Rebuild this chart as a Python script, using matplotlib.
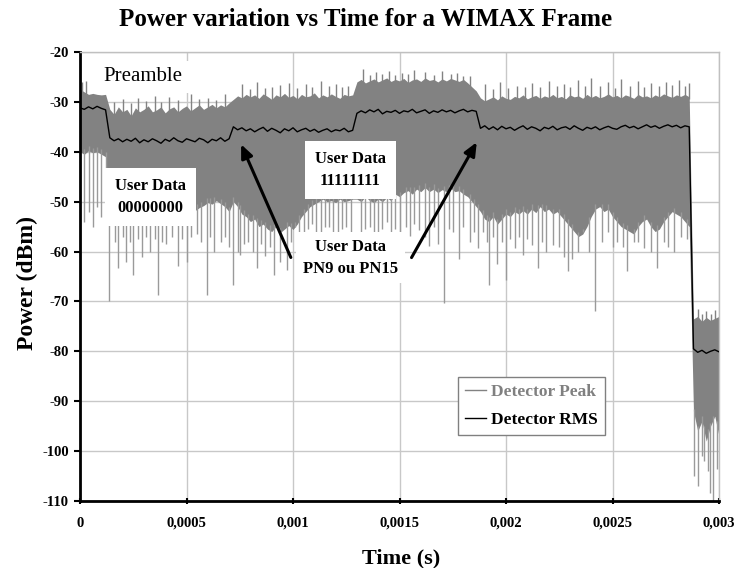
import matplotlib
matplotlib.use('Agg')
import matplotlib.pyplot as plt
from matplotlib.lines import Line2D
import numpy as np

# sample grid of the frame (s)
t = np.linspace(0, 0.003, 151)

# Detector Peak: upper edge of the dense band (dBm)
peak_top = [
    -27.5, -28, -28.5, -28.3, -28.5, -28.6, -28.5,
    -31.5, -32.5, -31, -32, -31.5, -32.8, -31.2, -32, -31.5, -30.8, -32, -31.6, -31, -32.2, -31.4,
    -31, -32, -31.3, -30.8, -31.8, -31.2, -30.6, -31.5, -31, -30.5, -31.2, -30.6, -31, -30.2,
    -29.5, -28.8, -29.2, -28.5, -29, -28.6, -29.3, -28.4, -28.9, -29.5, -28.6, -29, -28.3, -29.1,
    -28.7, -29.4, -28.5, -29, -28.8, -28.2, -29.2, -28.6, -29, -28.4, -28.9, -29.3, -28.5, -28.8, -28.6,
    -26, -25.5, -26.2, -25.8, -25.4, -26, -25.6, -25.2, -25.9, -25.5, -25.8, -25.3, -26.1, -25.6,
    -25.4, -25.9, -25.2, -25.7, -25.5, -26, -25.4, -25.8, -25.3, -25.6, -25.9, -25.5, -26.2, -27, -27.8,
    -29.2, -29.8, -29.4, -29, -29.6, -28.8, -29.3, -29.5, -28.9, -29.2, -28.6, -29.4, -29, -28.7,
    -29.3, -28.8, -29.1, -28.5, -29.2, -28.9, -29.4, -28.6, -29, -28.8, -29.3, -28.5, -29.1, -28.7,
    -29.2, -28.9, -28.4, -29, -28.7, -29.2, -28.6, -28.9, -29.3, -28.5, -29, -28.8, -29.2, -28.6,
    -29, -28.4, -28.8, -29.1, -28.6, -28.9, -28.5, -29,
    -73.5, -73, -74, -73.2, -73.8, -73.4, -73,
]

# Detector Peak: lower edge of the dense band (dBm)
peak_bottom = [
    -40, -40.5, -39.8, -40.2, -40, -40.5, -41,
    -54, -53.5, -54.5, -53.8, -54.2, -53.5, -54, -53.8, -54.5, -53.6, -54, -53.2, -53.8, -53.5, -53,
    -52.5, -53.2, -52.8, -52, -52.5, -51.8, -51.2, -50.8, -50.2, -50.5, -49.8, -50.4, -51, -52,
    -50, -51, -52.5, -53, -54, -53.5, -55, -54.5, -55.5, -56, -55, -56.2, -55.5, -54.8, -55.6,
    -54.5, -53, -52, -51, -50.5, -50, -49.5, -50, -49.8, -50.2, -49.5, -50, -49.8, -49.5,
    -49.5, -50, -49, -49.8, -50.2, -49.5, -50, -49.2, -49.8, -48.5, -49, -48.2, -47.8, -48.5,
    -47.5, -48, -47.2, -48, -47.5, -48.2, -47.6, -48, -47.3, -48, -47.8, -48.5, -49, -50, -51,
    -52, -53.5, -54, -53, -54.5, -53.5, -52.5, -53, -52, -52.5, -51.8, -52.5, -51.5, -52.2, -51,
    -52, -51.5, -52.5, -52, -53, -54, -55, -56, -57, -56.5, -55, -53, -51.5, -51, -52, -51.5,
    -53, -54, -55, -55.5, -56, -56.5, -55, -54, -53.5, -55, -56, -55.5, -54, -53, -52, -52.5,
    -53, -54, -55,
    -92, -96, -94, -98, -95, -93, -97,
]

# isolated downward peaks (s, dBm)
dip_t = [
    0.00002, 0.00004, 0.00006, 0.00008, 0.0001, 0.00012, 0.000138,
    0.000165, 0.000178, 0.0002, 0.000218, 0.000235, 0.00025, 0.00027, 0.00029, 0.00031, 0.00033,
    0.00035, 0.000366, 0.000385, 0.000405, 0.00043, 0.00046, 0.00048, 0.0005, 0.00052, 0.00055,
    0.00057, 0.000596, 0.00061, 0.00063, 0.00066, 0.00068, 0.0007, 0.00072, 0.00074,
    0.00075, 0.00077, 0.00079, 0.00081, 0.00083, 0.00085, 0.00087, 0.00089, 0.00091, 0.00094,
    0.00097, 0.00099, 0.00101, 0.00103, 0.00105, 0.00107, 0.00109, 0.00111, 0.00113, 0.00115,
    0.00117, 0.00119, 0.00121, 0.00123, 0.00125, 0.00127,
    0.00132, 0.00134, 0.00136, 0.00138, 0.0014, 0.00142, 0.00144, 0.00146, 0.00148, 0.0015,
    0.00153, 0.00155, 0.00157, 0.00159, 0.00162, 0.00164, 0.00166, 0.00168, 0.00171, 0.00173,
    0.00175, 0.00178, 0.0018, 0.00183, 0.00185,
    0.00187, 0.00189, 0.00191, 0.00192, 0.00194, 0.00196, 0.00198, 0.002, 0.00202, 0.00204,
    0.00206, 0.00208, 0.0021, 0.00212, 0.00215, 0.00217, 0.00219, 0.00222, 0.00225, 0.00227,
    0.00229, 0.00231, 0.00234, 0.00236, 0.00239, 0.00242, 0.00245, 0.00248, 0.0025, 0.00252,
    0.00255, 0.00257, 0.0026, 0.00262, 0.00265, 0.00268, 0.00271, 0.00274, 0.00276, 0.00279,
    0.00282, 0.00285,
    0.002883, 0.0029, 0.00292, 0.00293, 0.00295, 0.002958, 0.00297, 0.00299,
]
dip_v = [
    -54, -52, -55, -51, -53, -49, -70,
    -58, -63.3, -57, -62, -58, -64.7, -57.5, -61, -57, -60,
    -57.5, -68.7, -58, -58.5, -57, -63, -57.5, -62, -57, -56.5,
    -58, -68.7, -57, -60, -58, -57, -59, -66.7, -60,
    -60.7, -58.5, -58, -60, -63.3, -58.5, -60.8, -59, -64.7, -62,
    -63.7, -58, -55, -56.5, -56, -55.5, -54.5, -56, -56, -55,
    -55, -56, -56, -55.5, -55, -56,
    -56, -55.5, -55, -56, -56, -55.5, -54, -56, -55.5, -56,
    -55, -56.8, -54.5, -55.6, -57, -58.8, -55, -58.5, -70.3, -55.5,
    -56, -61.4, -55, -58, -56,
    -59.3, -56, -58, -66.7, -57, -62.4, -58, -65.7, -57.5, -59.3,
    -57, -60.6, -57.5, -58.6, -63.3, -58, -60, -58.6, -59, -61,
    -64, -61.4, -60, -56, -60, -72, -58, -56, -59, -58,
    -59, -64, -58, -58, -59.3, -60, -63.3, -58, -59, -60,
    -57, -57.5,
    -105, -107, -101, -102, -104, -108.4, -110, -103.5,
]

# isolated upward peaks (s, dBm)
crest_t = [
    0.00001, 0.00003,
    0.00016, 0.0002, 0.00024, 0.00027, 0.00031, 0.00035, 0.00038, 0.00042, 0.00046, 0.00052,
    0.00056, 0.0006, 0.00064, 0.00068,
    0.00076, 0.0008, 0.00083, 0.00087, 0.0009, 0.00094, 0.00098, 0.00102, 0.00106, 0.00109,
    0.00113, 0.00117, 0.0012, 0.00123, 0.00126,
    0.00133, 0.00136, 0.00139, 0.00142, 0.00145, 0.00148, 0.00151, 0.00154, 0.00157, 0.00162,
    0.00166, 0.0017, 0.00174, 0.00177, 0.0018, 0.00183,
    0.0019, 0.00194, 0.00197, 0.00201, 0.00205, 0.00209, 0.00212, 0.00216, 0.0022, 0.00224,
    0.00227, 0.0023, 0.00234, 0.00237, 0.0024, 0.00244, 0.00248, 0.00251, 0.00254, 0.00258,
    0.00262, 0.00265, 0.00268, 0.00272, 0.00275, 0.00278, 0.00281, 0.00284, 0.00286,
    0.0029, 0.00292, 0.00294, 0.00296, 0.00298,
]
crest_v = [
    -26, -25.8,
    -30, -29.5, -30.2, -29.2, -29.8, -28.8, -30, -29, -29.6, -28.5,
    -29.4, -29.2, -29.7, -28.5,
    -26.5, -27.4, -26, -27.2, -27, -26.6, -26.2, -27.3, -26.5, -27,
    -25.8, -26.9, -26.4, -27.1, -26.8,
    -23.5, -24.6, -24, -24.5, -23.8, -24.7, -24.2, -24.4, -23.6, -24,
    -24.6, -23.8, -24.5, -24.3, -24.9, -24.8,
    -26.5, -27.4, -26, -27.2, -26.8, -27.1, -26.2, -27, -25.8, -26.9,
    -26.5, -27, -25.6, -26.8, -25.2, -26.9, -26, -27.2, -25.5, -26.8,
    -25.8, -27, -26.3, -26.9, -26, -26.7, -25.6, -26.8, -26.2,
    -71.5, -72.5, -72, -72.6, -71.8,
]

# Detector RMS (dBm)
rms = [
    -31.2, -31.5, -31, -31.4, -30.9, -31.3, -31.6,
    -37.2, -37.8, -37.4, -38, -37.5, -37.9, -37.3, -38.2, -37.6, -38, -37.4, -37.8, -38.3, -37.5,
    -37.9, -37.2, -37.8, -38.1, -37.4, -37.7, -38, -37.3, -37.6, -38.2, -37.5, -37.8, -37.2, -37.9, -37.4,
    -35, -35.6, -35.2, -35.8, -35.4, -36, -35.5, -35.1, -35.9, -35.3, -35.7, -36.2, -35.4, -35.8,
    -35.2, -36, -35.6, -35.3, -35.9, -35.5, -36.1, -35.7, -35.4, -36, -35.6, -35.8, -35.3, -36, -35.7,
    -32.3, -31.8, -32.2, -31.6, -32, -31.5, -32.4, -31.9, -32.1, -31.7, -32.3, -31.8, -32, -31.5,
    -32.2, -31.9, -31.6, -32.3, -31.8, -32.1, -31.6, -32, -31.7, -32.2, -31.8, -31.5, -32, -31.7, -31.9,
    -35.3, -34.8, -35.5, -35, -35.6, -34.9, -35.4, -35.1, -35.7, -35.2, -34.8, -35.5, -35, -35.3,
    -35.8, -35.1, -35.4, -34.9, -35.6, -35.2, -35, -35.5, -34.8, -35.3, -35.7, -35.1, -35.4, -35,
    -35.6, -35.2, -34.9, -35.3, -35.5, -35, -34.7, -35.2, -34.9, -35.4, -35, -34.6, -35.1, -34.8,
    -35.3, -34.9, -34.6, -35, -34.7, -35.2, -34.8, -35,
    -79.5, -80.2, -79.8, -80.4, -80, -79.7, -80.1,
]

xticks = [0, 0.0005, 0.001, 0.0015, 0.002, 0.0025, 0.003]
xtick_labels = ['0', '0,0005', '0,001', '0,0015', '0,002', '0,0025', '0,003']
yticks = [-110, -100, -90, -80, -70, -60, -50, -40, -30, -20]

peak_color = '#828282'
spike_color = '#9a9a9a'
serif = 'Liberation Serif'

plt.rcParams['font.family'] = serif
plt.rcParams['axes.unicode_minus'] = False

fig = plt.figure(figsize=(7.34, 5.68), dpi=100)
ax = fig.add_axes([0.109, 0.118, 0.8706, 0.7905])

# peak detector trace
ax.fill_between(t, peak_bottom, peak_top, color=peak_color, lw=0, zorder=2)
lo = np.interp(dip_t, t, peak_bottom) + 1
ax.vlines(dip_t, dip_v, lo, color=spike_color, lw=1.0, zorder=2)
hi = np.interp(crest_t, t, peak_top) - 0.5
ax.vlines(crest_t, hi, crest_v, color=peak_color, lw=1.0, zorder=2)

# rms detector trace
ax.plot(t, rms, color='black', lw=1.0, zorder=3)

ax.set_xlim(0, 0.003)
ax.set_ylim(-110, -20)
ax.set_xticks(xticks)
ax.set_xticklabels(xtick_labels)
ax.set_yticks(yticks)
ax.grid(True, color='#c8c8c8', lw=1)
ax.set_axisbelow(True)
for side in ['left', 'bottom']:
    ax.spines[side].set_linewidth(2)
    ax.spines[side].set_color('black')
for side in ['top', 'right']:
    ax.spines[side].set_linewidth(1)
    ax.spines[side].set_color('#c0c0c0')
ax.tick_params(axis='y', direction='out', length=4, width=1.5, pad=4, labelsize=10.5)
ax.tick_params(axis='x', direction='inout', length=5, width=1.5, pad=9, labelsize=10.5)
for lab in ax.get_xticklabels() + ax.get_yticklabels():
    lab.set_fontweight('bold')

ax.set_ylabel('Power (dBm)', fontsize=17, fontweight='bold')
ax.yaxis.set_label_coords(-0.066, 0.486)
ax.set_xlabel('Time (s)', fontsize=16, fontweight='bold')
ax.xaxis.set_label_coords(0.502, -0.105)
fig.text(0.498, 0.965, 'Power variation vs Time for a WIMAX Frame', ha='center', va='center',
         fontsize=18, fontweight='bold')

# annotations
box = dict(boxstyle='square,pad=0.6', fc='white', ec='none')
ax.text(0.000295, -25.0, 'Preamble', fontsize=15, ha='center', va='center', zorder=5,
        bbox=dict(boxstyle='square,pad=0.3', fc='white', ec='none'))
ax.text(0.00033, -49.0, 'User Data\n00000000', fontsize=12, fontweight='bold', ha='center',
        va='center', linespacing=1.5, zorder=5, bbox=box)
ax.text(0.00127, -43.6, 'User Data\n11111111', fontsize=12, fontweight='bold', ha='center',
        va='center', linespacing=1.5, zorder=5, bbox=box)
ax.text(0.00127, -61.2, 'User Data\nPN9 ou PN15', fontsize=12, fontweight='bold', ha='center',
        va='center', linespacing=1.5, zorder=5, bbox=dict(boxstyle='square,pad=0.4', fc='white', ec='none'))

arrow = dict(arrowstyle='-|>,head_length=0.8,head_width=0.35', color='black', lw=2.2)
ax.annotate('', xy=(0.000751, -38.0), xytext=(0.000995, -61.7), arrowprops=arrow, zorder=6)
ax.annotate('', xy=(0.001869, -37.6), xytext=(0.00155, -61.7), arrowprops=arrow, zorder=6)

handles = [Line2D([], [], color=peak_color, lw=1), Line2D([], [], color='black', lw=1)]
leg = ax.legend(handles, ['Detector Peak', 'Detector RMS'], loc='lower left',
                bbox_to_anchor=(0.5915, 0.147), borderaxespad=0, fancybox=False,
                edgecolor='#808080', framealpha=1, handlelength=1.2, handletextpad=0.3,
                borderpad=0.4, labelspacing=0.7,
                prop={'family': serif, 'weight': 'bold', 'size': 12.5})
leg.get_frame().set_linewidth(1)
leg.get_texts()[0].set_color('#808080')
leg.set_zorder(7)

fig.savefig('out.png', dpi=100)
